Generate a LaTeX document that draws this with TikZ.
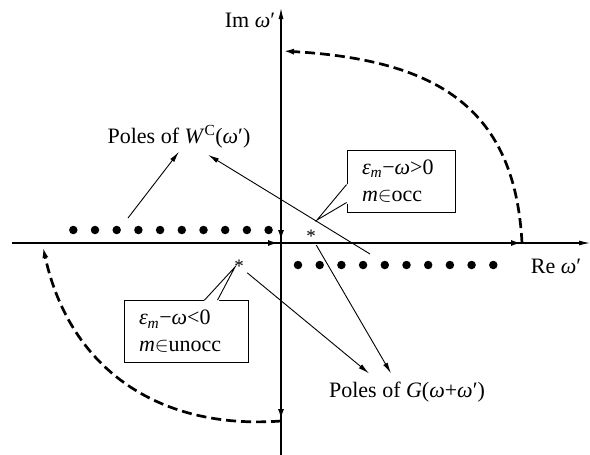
\documentclass[tikz,border=0pt]{standalone}
\usepackage{fontspec}
\setmainfont{Liberation Serif}
\usetikzlibrary{arrows.meta, calc}
\newcommand{\omg}{\textit{ω}}
\newcommand{\epsm}{\textit{ε}\textsubscript{\textit{m}}}

\begin{document}
\begin{tikzpicture}[x=1pt, y=-1pt, every node/.style={font=\fontsize{22}{27}\selectfont},
  axis/.style={line width=1.1pt, -{Latex[length=11pt, width=5pt]}},
  contour/.style={line width=2.7pt, dash pattern=on 10pt off 5pt, -{Latex[length=11pt, width=6pt]}},
  pointer/.style={line width=0.9pt, -{Latex[length=11pt, width=5pt]}},
  callout/.style={draw, line width=0.9pt, fill=white, align=left, inner xsep=15pt, minimum height=62pt},
  pole/.style={circle, fill, inner sep=0pt, minimum size=8.5pt}]
  \useasboundingbox (0,0) rectangle (590,455);
  % axes
  \draw[axis] (12,243) -- (590,243);
  \draw[axis] (281,455) -- (281,8);
  \node (imlab) at (250,20) {Im \omg′};
  \node (relab) at (556,266) {Re \omg′};
  % integration contour
  \draw[contour] (43,243) -- (279,243);
  \draw[contour] (281,243) -- (522,243);
  \draw[contour] (522,243) .. controls (515,110) and (440,60) .. (283,51);
  \draw[contour] (281,51) -- (281,241);
  \draw[contour] (281,243) -- (281,420);
  \draw[contour] (281,421) .. controls (160,430) and (70,370) .. (43,247);
  % poles
  \foreach \i in {0,...,9} {
    \node[pole] (wc\i) at (73.3+21.7*\i,230) {};
    \node[pole] (gp\i) at (298+21.7*\i,265) {};
  }
  \node[font=\fontsize{19}{20}\selectfont, inner sep=1pt] (ast1) at (311,236) {*};
  \node[font=\fontsize{19}{20}\selectfont, inner sep=1pt] (ast2) at (239,266) {*};
  % labels
  \node (wlab) at (179,137) {Poles of \textit{W}\textsuperscript{C}(\omg′)};
  \node (glab) at (407,392) {Poles of \textit{G}(\omg+\omg′)};
  \coordinate (wcleft) at (128,218);
  \coordinate (wcright) at (370,254);
  \draw[pointer] (wcleft) -- (wlab.south);
  \draw[pointer, shorten >=6pt] (wcright) -- (wlab);
  \draw[pointer, shorten <=3pt] (ast2) -- ($(glab.north)+(-38,-5)$);
  \draw[pointer, shorten <=2pt] (ast1) -- ($(glab.north)+(-16,-5)$);
  % callout boxes
  \node[callout, text width=78pt, minimum width=108pt] (occbox) at (401,181)
    {\epsm−\omg>0\\\textit{m}$\in$occ};
  \node[callout, text width=94pt, minimum width=124pt] (unoccbox) at (186,331.5)
    {\epsm−\omg<0\\\textit{m}$\in$unocc};
  \coordinate (occtip) at (317,220);
  \coordinate (unocctip) at (235,267);
  \fill[white] ($(occbox.north west)+(1.5,34)$) -- (occtip) -- ($(occbox.north west)+(1.5,54)$) -- cycle;
  \draw[line width=0.9pt] ($(occbox.north west)+(0,35)$) -- (occtip) -- ($(occbox.north west)+(0,53)$);
  \fill[white] ($(unoccbox.north west)+(80,1.5)$) -- (unocctip) -- ($(unoccbox.north west)+(95,1.5)$) -- cycle;
  \draw[line width=0.9pt] ($(unoccbox.north west)+(81,0)$) -- (unocctip) -- ($(unoccbox.north west)+(94,0)$);
\end{tikzpicture}
\end{document}
